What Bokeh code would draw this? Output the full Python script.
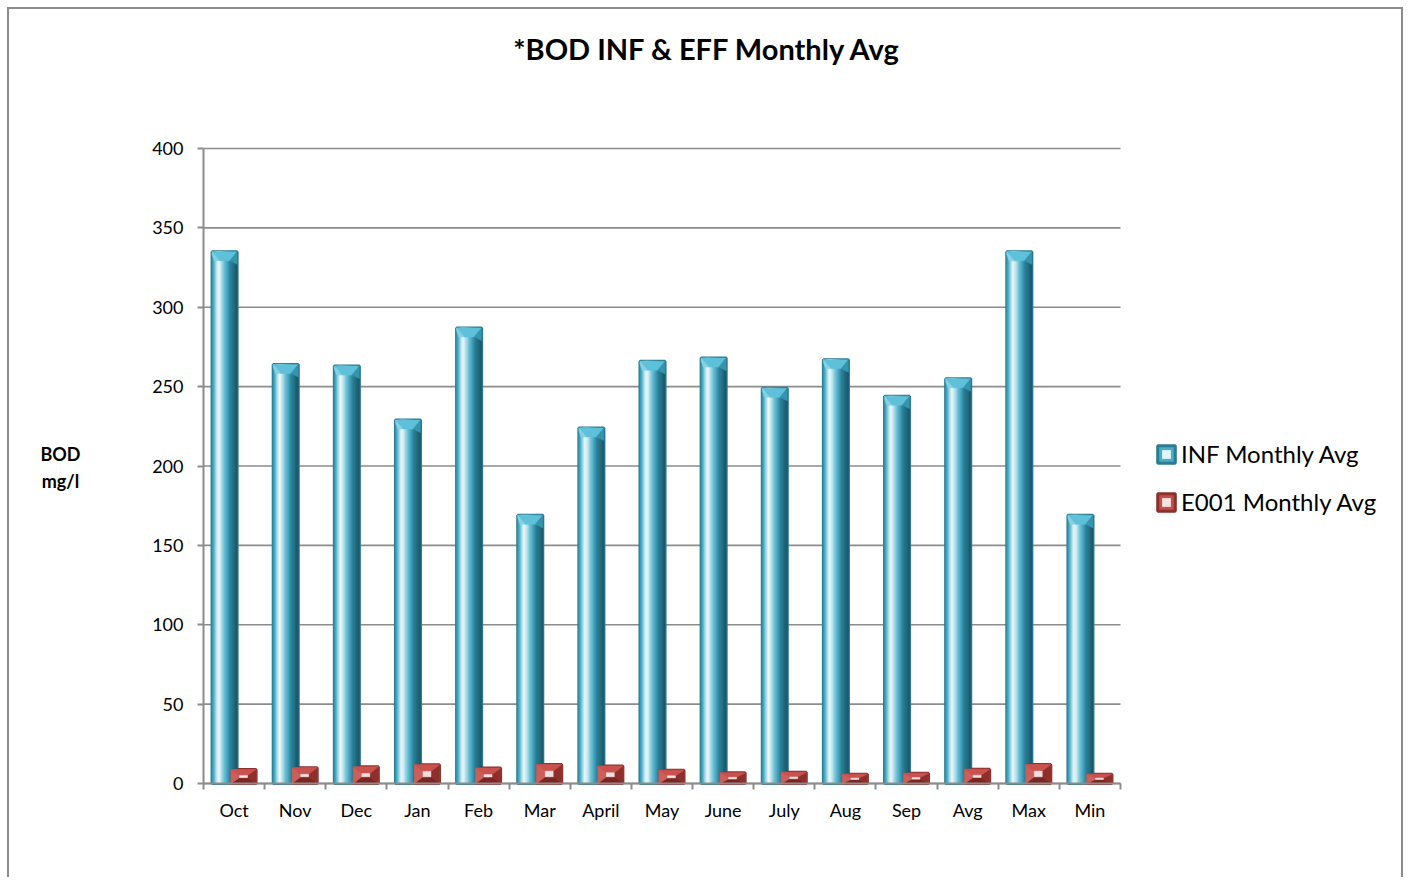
import numpy as np
from bokeh.plotting import figure
from bokeh.models import (ColumnDataSource, Range1d, FixedTicker, Legend, LegendItem,
                          LinearAxis, Label)
from bokeh.embed import file_html
from bokeh.resources import INLINE

# ---------------- data ----------------
categories = ["Oct", "Nov", "Dec", "Jan", "Feb", "Mar", "April", "May", "June",
              "July", "Aug", "Sep", "Avg", "Max", "Min"]
inf_avg = [335, 264, 263, 229, 287, 169, 224, 266, 268, 249, 267, 244, 255, 335, 169]
eff_avg = [8.8, 10, 10.5, 11.8, 9.7, 12, 11, 8.4, 6.7, 7.1, 5.9, 6.5, 9.0, 12, 5.9]
y_ticks = [0, 50, 100, 150, 200, 250, 300, 350, 400]
series_names = ["INF Monthly Avg", "E001 Monthly Avg"]
title_text = "*BOD INF & EFF Monthly Avg"
y_label_lines = ["BOD", "mg/l"]

FONT = "Lato"
GRAY = "#8c8c8c"
n = len(categories)

# ---------------- layout (pixels) ----------------
W, H = 1396, 870           # canvas: page x 9..1405, y 9..879
ORG_X, ORG_Y = 9, 9
PLOT_L, PLOT_R, PLOT_T, PLOT_B = 203, 1120, 148, 783
px_x = (PLOT_R - PLOT_L) / n
px_y = (PLOT_B - PLOT_T) / y_ticks[-1]

x_range = Range1d(-(PLOT_L - ORG_X) / px_x, (ORG_X + W - PLOT_L) / px_x)
y_range = Range1d(-(ORG_Y + H - PLOT_B) / px_y, (PLOT_B - ORG_Y) / px_y)

p = figure(width=W, height=H, x_range=x_range, y_range=y_range,
           x_axis_type=None, y_axis_type=None,
           output_backend="svg", toolbar_location=None,
           min_border_left=0, min_border_right=0, min_border_top=0, min_border_bottom=0)
p.styles = {"margin-left": "7px", "margin-top": "7px",
            "border-left": "2px solid #8c8c8c", "border-top": "2px solid #8c8c8c",
            "border-right": "2px solid #8c8c8c"}
p.outline_line_color = None
p.background_fill_color = "white"
p.border_fill_color = "white"
p.xgrid.visible = False
p.ygrid.visible = False

# gridlines
p.segment(x0=[0] * len(y_ticks), x1=[n] * len(y_ticks), y0=y_ticks, y1=y_ticks,
          line_color=GRAY, line_width=1.6)

centers = [i + 0.5 for i in range(n)]

# x axis at y = 0
xaxis = LinearAxis(fixed_location=0, bounds=(0, n),
                   ticker=FixedTicker(ticks=centers, minor_ticks=list(range(n + 1))),
                   major_label_overrides={c: lab for c, lab in zip(centers, categories)},
                   major_tick_in=0, major_tick_out=0,
                   minor_tick_in=0, minor_tick_out=6,
                   minor_tick_line_color=GRAY, minor_tick_line_width=2,
                   axis_line_color=GRAY, axis_line_width=2,
                   major_label_standoff=9, major_label_text_font=FONT,
                   major_label_text_font_size="18px", major_label_text_color="#000000")
p.add_layout(xaxis, "below")

# y axis at x = 0
yaxis = LinearAxis(fixed_location=0, bounds=(0, y_ticks[-1]),
                   ticker=FixedTicker(ticks=y_ticks),
                   major_tick_in=0, major_tick_out=6,
                   major_tick_line_color=GRAY, major_tick_line_width=2,
                   minor_tick_line_color=None,
                   axis_line_color=GRAY, axis_line_width=2,
                   major_label_standoff=14, major_label_text_font=FONT,
                   major_label_text_font_size="18px", major_label_text_color="#000000")
p.add_layout(yaxis, "left")


def hex2rgb(h):
    h = h.lstrip("#")
    return np.array([int(h[i:i + 2], 16) for i in (0, 2, 4)], dtype=float)


def gradient(stops, k):
    ts = np.array([s[0] for s in stops])
    cols = np.array([hex2rgb(s[1]) for s in stops])
    out = []
    for j in range(k):
        t = (j + 0.5) / k
        rgb = [np.interp(t, ts, cols[:, c]) for c in range(3)]
        out.append("#%02x%02x%02x" % tuple(int(round(v)) for v in rgb))
    return out


BAR_W = 0.41
OFFSET = 0.155
inf_x = [c - OFFSET for c in centers]
eff_x = [c + OFFSET for c in centers]

# ---------- legend proxies (drawn first, hidden under the bars) ----------
leg_inf_a = p.vbar(x=inf_x, top=inf_avg, width=BAR_W, fill_color="#4bacc6",
                   line_color="#2a7c92", line_width=3)
leg_inf_b = p.scatter(x=inf_x, y=[0] * n, size=1, marker="square",
                      fill_color="#e3f4f8", line_color=None)
leg_eff_a = p.vbar(x=eff_x, top=eff_avg, width=BAR_W, fill_color="#c0504d",
                   line_color="#8e2f2c", line_width=3)
leg_eff_b = p.scatter(x=eff_x, y=[0] * n, size=1, marker="square",
                      fill_color="#f3e2e2", line_color=None)

# ---------- INF bars: cylinder-like shading ----------
teal_stops = [(0.00, "#3592ab"), (0.08, "#4fb0c9"), (0.18, "#b5e2ed"), (0.26, "#f5fcfd"),
              (0.36, "#c8e9f1"), (0.50, "#6fc0d5"), (0.62, "#45a5bf"), (0.74, "#2b7f97"),
              (0.88, "#226a7e"), (1.00, "#1a5666")]
NS = 22
tcols = gradient(teal_stops, NS)
L, R, B, T, C = [], [], [], [], []
for i, v in enumerate(inf_avg):
    x0 = inf_x[i] - BAR_W / 2
    for k in range(NS):
        L.append(x0 + BAR_W * k / NS)
        R.append(x0 + BAR_W * (k + 1) / NS)
        B.append(0)
        T.append(v)
        C.append(tcols[k])
src_inf = ColumnDataSource(dict(left=L, right=R, bottom=B, top=T, color=C))
p.quad(left="left", right="right", bottom="bottom", top="top", source=src_inf,
       fill_color="color", line_color="color", line_width=0.6)

# top bevel of INF bars
ix_t, b_t = 0.12, 5.7
txs, tys, tc = [], [], []
for i, v in enumerate(inf_avg):
    x0 = inf_x[i] - BAR_W / 2
    x1 = x0 + BAR_W
    txs.append([x0, x1, x1 - ix_t, x0 + ix_t]); tys.append([v, v, v - b_t, v - b_t]); tc.append("#5fc0d9")
    txs.append([x0, x0 + ix_t, x0 + ix_t * 0.3, x0]); tys.append([v, v - b_t, v - b_t, v - b_t * 0.3]); tc.append("#86d0e3")
    txs.append([x1, x1 - ix_t, x1, x1]); tys.append([v, v - b_t, v - b_t * 1.4, v]); tc.append("#3595ae")
p.patches(xs="xs", ys="ys", source=ColumnDataSource(dict(xs=txs, ys=tys, c=tc)),
          fill_color="c", line_color="c", line_width=0.5)

# ---------- E001 bars: bevelled boxes ----------
rxs, rys, rc = [], [], []
ix_r = 0.14
for i, v in enumerate(eff_avg):
    x0 = eff_x[i] - BAR_W / 2
    x1 = x0 + BAR_W
    b = min(4.2, v * 0.42)
    xi0, xi1 = x0 + ix_r, x1 - ix_r
    rxs.append([x0, x1, x1, x0]); rys.append([0, 0, v, v]); rc.append("#c0504d")
    rxs.append([x0, x1, xi1, xi0]); rys.append([0, 0, b, b]); rc.append("#7a2522")
    rxs.append([x1, x1, xi1, xi1]); rys.append([0, v, v - b, b]); rc.append("#8e2f2c")
    rxs.append([x0, xi0, xi0, x0]); rys.append([0, b, v - b, v]); rc.append("#cc5f5b")
    rxs.append([x0, x1, xi1, xi0]); rys.append([v, v, v - b, v - b]); rc.append("#c9524f")
    if v - 2 * b > 0:
        rxs.append([xi0, xi1, xi1, xi0]); rys.append([b, b, v - b, v - b]); rc.append("#f1dfdf")
p.patches(xs="xs", ys="ys", source=ColumnDataSource(dict(xs=rxs, ys=rys, c=rc)),
          fill_color="c", line_color="c", line_width=0.5)

# ---------- legend ----------
legend = Legend(items=[LegendItem(label=series_names[0], renderers=[leg_inf_a, leg_inf_b]),
                       LegendItem(label=series_names[1], renderers=[leg_eff_a, leg_eff_b])],
                location=(1155 - ORG_X, ORG_Y + H - 516), orientation="vertical",
                glyph_width=22, glyph_height=22, label_height=24, label_standoff=4,
                spacing=19, padding=0, margin=0,
                label_text_font=FONT, label_text_font_size="24px", label_text_color="#000000",
                border_line_color=None, background_fill_alpha=0)
p.add_layout(legend, "center")

# ---------- title & y label ----------
p.add_layout(Label(x=(707 - PLOT_L) / px_x, y=(PLOT_B - 48) / px_y, text=title_text,
                   text_font=FONT, text_font_style="bold", text_font_size="29px",
                   text_align="center", text_baseline="middle", text_color="#000000"))
for j, line in enumerate(y_label_lines):
    p.add_layout(Label(x=(60 - PLOT_L) / px_x, y=(PLOT_B - 453 - 27 * j) / px_y, text=line,
                       text_font=FONT, text_font_style="bold", text_font_size="18px",
                       text_align="center", text_baseline="middle", text_color="#000000"))

open("out.html", "w").write(file_html(p, INLINE))
